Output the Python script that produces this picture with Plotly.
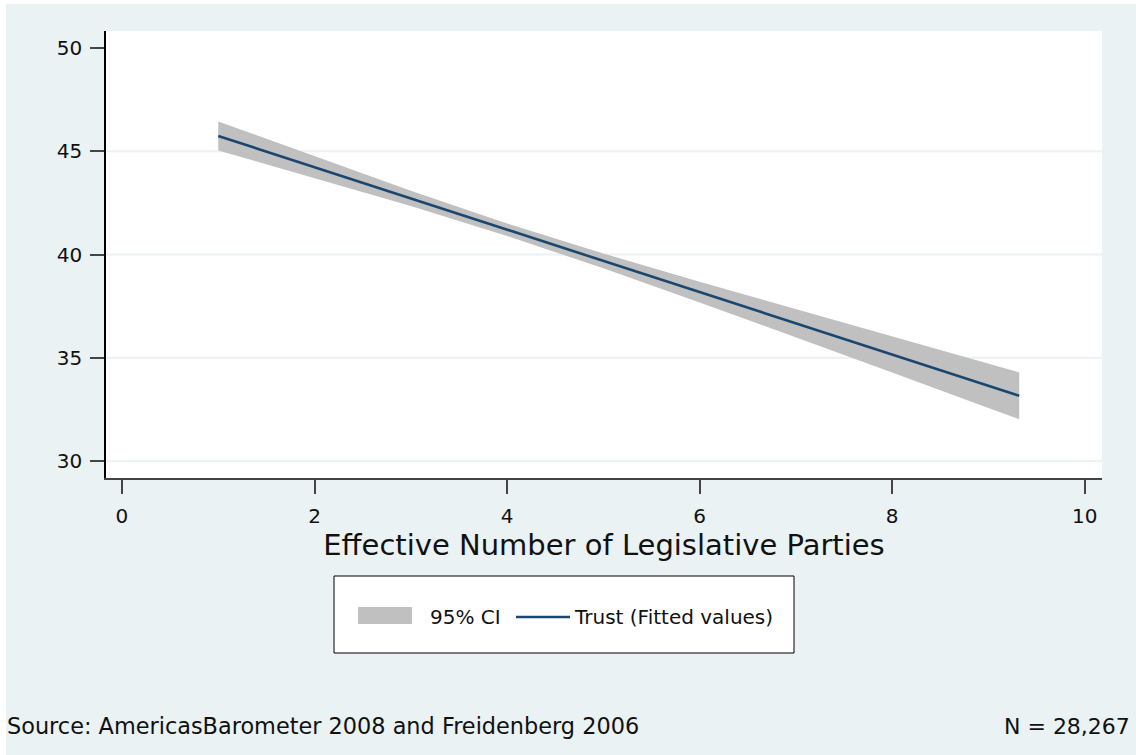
import plotly.graph_objects as go

# Fitted trust values with 95% confidence band, by effective number of parties
enp = [1, 2, 3, 4, 5, 6, 7, 8, 9, 9.32]
fitted = [45.74, 44.23, 42.72, 41.20, 39.69, 38.18, 36.67, 35.16, 33.64, 33.16]
ci_lower = [45.04, 43.71, 42.35, 40.90, 39.33, 37.68, 35.99, 34.29, 32.57, 32.03]
ci_upper = [46.44, 44.75, 43.09, 41.50, 40.05, 38.68, 37.35, 36.03, 34.71, 34.29]

x_ticks = [0, 2, 4, 6, 8, 10]
y_ticks = [30, 35, 40, 45, 50]
grid_levels = [30, 35, 40, 45]

x_title = "Effective Number of Legislative Parties"
ci_label = "95% CI"
fit_label = "Trust (Fitted values)"
source_note = "Source: AmericasBarometer 2008 and Freidenberg 2006"
n_note = "N = 28,267"

BG = "#EAF2F3"
BAND = "#C0C0C0"
NAVY = "#1A476F"
FONT = "DejaVu Sans"
INK = "#111"

W, H = 1136, 755
L, R, T, B = 106, 34, 31, 277
PW, PH = W - L - R, H - T - B


def px(xpix):
    return (xpix - L) / PW


def py(ypix):
    return (H - B - ypix) / PH


fig = go.Figure()

fig.add_trace(go.Scatter(x=enp, y=ci_upper, mode="lines", line=dict(width=0, color=BAND),
                         hoverinfo="skip", showlegend=False))
fig.add_trace(go.Scatter(x=enp, y=ci_lower, mode="lines", line=dict(width=0, color=BAND),
                         fill="tonexty", fillcolor=BAND, name=ci_label, showlegend=False))
fig.add_trace(go.Scatter(x=enp, y=fitted, mode="lines", line=dict(width=2.6, color=NAVY),
                         name=fit_label, showlegend=False))

shapes = []
# horizontal grid lines
for g in grid_levels:
    shapes.append(dict(type="line", xref="paper", yref="y", x0=0, x1=1, y0=g, y1=g,
                       line=dict(color=BG, width=2), layer="below"))

# white page margin on the left and top
shapes.append(dict(type="rect", xref="paper", yref="paper", x0=px(0), x1=px(6),
                   y0=py(H), y1=py(0), fillcolor="white", line=dict(width=0), layer="above"))
shapes.append(dict(type="rect", xref="paper", yref="paper", x0=px(0), x1=px(W),
                   y0=py(4), y1=py(0), fillcolor="white", line=dict(width=0), layer="above"))

# legend box
shapes.append(dict(type="rect", xref="paper", yref="paper", x0=px(334), x1=px(794),
                   y0=py(653), y1=py(576), fillcolor="white", line=dict(color="black", width=1)))
shapes.append(dict(type="rect", xref="paper", yref="paper", x0=px(358), x1=px(412),
                   y0=py(624), y1=py(607), fillcolor=BAND, line=dict(width=0)))
shapes.append(dict(type="line", xref="paper", yref="paper", x0=px(516), x1=px(570),
                   y0=py(617), y1=py(617), line=dict(color=NAVY, width=2.6)))

annotations = [
    dict(text=ci_label, xref="paper", yref="paper", x=px(428), y=py(617), xanchor="left",
         yanchor="middle", showarrow=False, font=dict(family=FONT, size=20, color=INK)),
    dict(text=fit_label, xref="paper", yref="paper", x=px(572), y=py(617), xanchor="left",
         yanchor="middle", showarrow=False, font=dict(family=FONT, size=20, color=INK)),
    dict(text=source_note, xref="paper", yref="paper", x=px(5), y=py(726), xanchor="left",
         yanchor="middle", showarrow=False, font=dict(family=FONT, size=22.4, color=INK)),
    dict(text=n_note, xref="paper", yref="paper", x=px(1132), y=py(726), xanchor="right",
         yanchor="middle", showarrow=False, font=dict(family=FONT, size=22, color=INK)),
]

fig.update_layout(
    width=W, height=H,
    margin=dict(l=L, r=R, t=T, b=B, pad=0),
    paper_bgcolor=BG,
    plot_bgcolor="white",
    showlegend=False,
    shapes=shapes,
    annotations=annotations,
    xaxis=dict(
        range=[-0.166, 10.18], tickvals=x_ticks, ticktext=[str(v) for v in x_ticks],
        showgrid=False, zeroline=False, showline=True, linecolor="#444", linewidth=1.5,
        ticks="outside", ticklen=14, tickwidth=1.5, tickcolor="#444",
        ticklabelstandoff=5,
        tickfont=dict(family=FONT, size=20, color=INK),
        title=dict(text=x_title, font=dict(family=FONT, size=29, color=INK), standoff=8),
    ),
    yaxis=dict(
        range=[29.18, 50.82], tickvals=y_ticks, ticktext=[str(v) for v in y_ticks],
        showgrid=False, zeroline=False, showline=True, linecolor="black", linewidth=1.5,
        ticks="outside", ticklen=14, tickwidth=1.5, tickcolor="#444",
        ticklabelstandoff=4,
        tickfont=dict(family=FONT, size=20, color=INK),
    ),
)

fig.write_html("out.html")
